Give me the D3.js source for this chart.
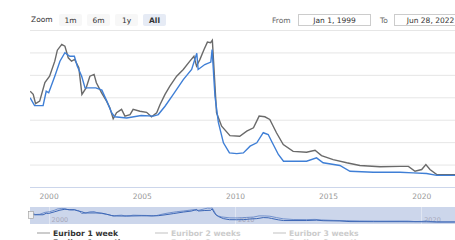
<!DOCTYPE html>
<html>
<head>
<meta charset="utf-8">
<script src="https://cdnjs.cloudflare.com/ajax/libs/d3/7.8.5/d3.min.js"></script>
<style>
  html, body { margin: 0; padding: 0; overflow: hidden; background: #fff; }
  svg { display: block; font-family: "DejaVu Sans", Verdana, sans-serif; }
</style>
</head>
<body>
<div id="chart"></div>
<script>

// Euribor 1 week (grey line)
var weekDates = ["1999-01-04", "1999-03-05", "1999-04-20", "1999-07-10", "1999-10-20", "2000-01-20",
    "2000-05-01", "2000-06-20", "2000-09-15", "2000-11-15", "2001-01-20", "2001-03-25", "2001-05-25",
    "2001-08-15", "2001-10-15", "2002-01-05", "2002-03-20", "2002-06-10", "2002-07-25", "2002-11-05",
    "2003-02-10", "2003-04-15", "2003-06-20", "2003-08-25", "2003-12-01", "2004-02-05", "2004-05-15",
    "2004-07-15", "2004-11-25", "2005-04-05", "2005-07-10", "2005-10-20", "2005-12-25", "2006-04-01",
    "2006-07-05", "2006-11-15", "2007-03-25", "2007-08-01", "2007-10-20", "2007-12-10", "2008-02-15",
    "2008-05-05", "2008-07-10", "2008-09-10", "2008-10-15", "2009-01-05", "2009-04-15", "2009-09-25",
    "2010-04-05", "2010-08-20", "2010-12-30", "2011-04-20", "2011-08-10", "2011-11-15", "2012-03-25",
    "2012-08-05", "2013-02-15", "2013-11-05", "2014-04-20", "2014-08-25", "2015-04-10", "2016-01-01",
    "2016-09-15", "2017-10-15", "2018-11-10", "2019-04-25", "2019-09-01", "2020-01-10", "2020-04-01",
    "2020-06-20", "2020-11-01", "2021-10-20", "2022-06-28"];
var weekValues = [3.27, 3.13, 2.72, 2.83, 3.66, 3.94,
    4.61, 5.10, 5.36, 5.28, 4.76, 4.61, 4.69,
    4.32, 3.13, 3.42, 3.94, 4.02, 3.65, 3.20,
    2.83, 2.53, 2.04, 2.31, 2.46, 2.16, 2.23,
    2.46, 2.38, 2.33, 2.13, 2.31, 2.68, 3.13,
    3.50, 3.94, 4.24, 4.61, 4.83, 4.39, 4.69,
    5.13, 5.46, 5.43, 5.54, 2.31, 1.71, 1.29,
    1.26, 1.49, 1.64, 2.16, 2.13, 2.01, 1.42,
    0.89, 0.59, 0.55, 0.64, 0.40, 0.22, 0.08,
    -0.04, -0.10, -0.08, -0.08, -0.30, -0.22, 0.00,
    -0.22, -0.45, -0.45, -0.42];

// Euribor 1 month (blue line)
var monthDates = ["1999-01-04", "1999-04-01", "1999-09-15", "1999-11-15", "2000-01-03", "2000-05-01",
    "2000-08-10", "2000-11-15", "2001-02-20", "2001-05-20", "2001-07-15", "2001-10-10", "2001-12-15",
    "2002-07-15", "2002-11-10", "2003-02-15", "2003-05-20", "2003-07-20", "2004-03-10", "2004-12-20",
    "2005-08-15", "2005-11-20", "2006-04-01", "2006-09-10", "2007-03-25", "2007-09-05", "2007-12-15",
    "2008-01-10", "2008-05-20", "2008-09-15", "2008-10-10", "2008-12-05", "2009-02-10", "2009-05-20",
    "2009-09-15", "2010-02-05", "2010-06-15", "2010-10-25", "2011-03-05", "2011-07-10", "2011-10-15",
    "2011-12-20", "2012-05-01", "2012-08-10", "2013-11-05", "2014-05-20", "2014-09-25", "2015-08-20",
    "2016-03-05", "2017-06-05", "2018-11-10", "2019-07-25", "2020-04-15", "2020-11-01", "2021-10-20",
    "2022-06-28"];
var monthValues = [2.98, 2.63, 2.63, 3.27, 3.20, 3.94,
    4.61, 4.99, 4.83, 4.83, 4.39, 3.94, 3.42,
    3.42, 3.32, 2.83, 2.31, 2.13, 2.08, 2.19,
    2.16, 2.23, 2.60, 3.13, 3.79, 4.24, 4.96,
    4.24, 4.46, 4.57, 5.13, 3.05, 1.88, 0.97,
    0.52, 0.49, 0.52, 0.82, 0.97, 1.42, 1.34,
    1.04, 0.45, 0.15, 0.15, 0.30, 0.08, -0.04,
    -0.30, -0.34, -0.34, -0.37, -0.40, -0.48, -0.48,
    -0.45];

var yearTicks = [2000, 2005, 2010, 2015, 2020];
var navigatorYears = [2000, 2010, 2020];
var rateTicks = [-1, 0, 1, 2, 3, 4, 5, 6];
var zoomButtons = ["1m", "6m", "1y", "All"];
var legendNames = ["Euribor 1 week", "Euribor 2 weeks", "Euribor 3 weeks",
    "Euribor 1 month", "Euribor 2 months", "Euribor 3 months"];
var legendVisible = [true, false, false, true, false, false];
var rangeFrom = "Jan 1, 1999";
var rangeTo = "Jun 28, 2022";

var parseDate = d3.timeParse("%Y-%m-%d");
var startDate = parseDate("1999-01-01");
var endDate = parseDate("2022-06-28");

var greyColor = "#6a6a6a";
var blueColor = "#3f7fd6";

function toSeries(dates, values) {
    return dates.map(function(d, i) { return {date: parseDate(d), value: values[i]}; });
}

var weekSeries = toSeries(weekDates, weekValues);
var monthSeries = toSeries(monthDates, monthValues);

var width = 480, height = 240;
var plot = {left: 30, top: 30, bottom: 187};

var svg = d3.select("#chart").append("svg")
    .attr("width", width)
    .attr("height", height);

// Scales
var x = d3.scaleTime()
    .domain([startDate, endDate])
    .range([plot.left, 467.6]);

var y = d3.scaleLinear()
    .domain([-1, 6])
    .range([plot.bottom, plot.top]);

// Range selector: zoom buttons
var selector = svg.append("g").attr("class", "selector");

selector.append("text")
    .attr("x", 31)
    .attr("y", 22)
    .style("font-size", "7.5px")
    .style("fill", "#333")
    .text("Zoom");

var buttons = selector.selectAll(".button")
    .data(zoomButtons)
    .enter().append("g")
    .attr("class", "button")
    .attr("transform", function(d, i) { return "translate(" + (59 + i * 28) + ",14)"; });

buttons.append("rect")
    .attr("width", 23)
    .attr("height", 12)
    .attr("rx", 2)
    .style("fill", function(d) { return d === "All" ? "#e6ebf5" : "#f7f7f7"; });

buttons.append("text")
    .attr("x", 11.5)
    .attr("y", 8.5)
    .style("text-anchor", "middle")
    .style("font-size", "7.5px")
    .style("font-weight", function(d) { return d === "All" ? "bold" : "normal"; })
    .style("fill", "#333")
    .text(function(d) { return d; });

// Range selector: date inputs
selector.append("text")
    .attr("x", 272)
    .attr("y", 22.5)
    .style("font-size", "7.5px")
    .style("fill", "#666")
    .text("From");

selector.append("rect")
    .attr("x", 298.5).attr("y", 14.5)
    .attr("width", 72).attr("height", 11)
    .style("fill", "#fff")
    .style("stroke", "#ccc");

selector.append("text")
    .attr("x", 334.5)
    .attr("y", 22.5)
    .style("text-anchor", "middle")
    .style("font-size", "7.5px")
    .style("fill", "#333")
    .text(rangeFrom);

selector.append("text")
    .attr("x", 380)
    .attr("y", 22.5)
    .style("font-size", "7.5px")
    .style("fill", "#666")
    .text("To");

selector.append("rect")
    .attr("x", 394.5).attr("y", 14.5)
    .attr("width", 72).attr("height", 11)
    .style("fill", "#fff")
    .style("stroke", "#ccc");

selector.append("text")
    .attr("x", 430.5)
    .attr("y", 22.5)
    .style("text-anchor", "middle")
    .style("font-size", "7.5px")
    .style("fill", "#333")
    .text(rangeTo);

// Horizontal grid
var grid = svg.append("g")
    .attr("class", "grid")
    .attr("transform", "translate(" + plot.left + ",0)")
    .call(d3.axisRight(y).tickValues(rateTicks).tickSize(width).tickFormat(""));

grid.select(".domain").remove();
grid.selectAll("line").style("stroke", "#e6e6e6");

// X axis
var xAxis = svg.append("g")
    .attr("class", "x axis")
    .attr("transform", "translate(0," + plot.bottom + ")")
    .call(d3.axisBottom(x)
        .tickValues(yearTicks.map(function(yr) { return new Date(yr, 0, 1); }))
        .tickFormat(d3.timeFormat("%Y"))
        .tickSize(0)
        .tickPadding(7));

xAxis.select(".domain")
    .attr("d", "M" + plot.left + ",0.5H" + width)
    .style("stroke", "#ccd6eb");

xAxis.selectAll("text")
    .style("font-family", "DejaVu Sans, Verdana, sans-serif")
    .style("font-size", "7.5px")
    .style("fill", "#999");

// Lines
svg.append("clipPath")
    .attr("id", "plotclip")
    .append("rect")
    .attr("x", plot.left).attr("y", 0)
    .attr("width", width).attr("height", plot.bottom);

var line = d3.line()
    .x(function(d) { return x(d.date); })
    .y(function(d) { return y(d.value); });

var lines = svg.append("g").attr("clip-path", "url(#plotclip)");

lines.append("path")
    .datum(weekSeries)
    .attr("d", line)
    .style("fill", "none")
    .style("stroke", greyColor)
    .style("stroke-width", 1.4);

lines.append("path")
    .datum(monthSeries)
    .attr("d", line)
    .style("fill", "none")
    .style("stroke", blueColor)
    .style("stroke-width", 1.4);

// Navigator
var nav = {top: 207, bottom: 224};
var yNav = d3.scaleLinear()
    .domain([d3.min(monthValues), d3.max(weekValues)])
    .range([222, 208]);

var navGroup = svg.append("g").attr("class", "navigator");

navGroup.append("rect")
    .attr("x", plot.left).attr("y", nav.top)
    .attr("width", width - plot.left).attr("height", nav.bottom - nav.top)
    .style("fill", "#ccd6eb");

navGroup.selectAll(".navgrid")
    .data(navigatorYears)
    .enter().append("line")
    .attr("class", "navgrid")
    .attr("x1", function(d) { return Math.round(x(new Date(d, 0, 1))) + 0.5; })
    .attr("x2", function(d) { return Math.round(x(new Date(d, 0, 1))) + 0.5; })
    .attr("y1", nav.top)
    .attr("y2", nav.bottom)
    .style("stroke", "#e0e6f2");

navGroup.selectAll(".navlabel")
    .data(navigatorYears)
    .enter().append("text")
    .attr("class", "navlabel")
    .attr("x", function(d) { return x(new Date(d, 0, 1)) + 3; })
    .attr("y", 222)
    .style("font-size", "6.5px")
    .style("fill", "#aab")
    .text(function(d) { return d; });

var navLine = d3.line()
    .x(function(d) { return x(d.date); })
    .y(function(d) { return yNav(d.value); });

navGroup.append("path")
    .datum(weekSeries)
    .attr("d", navLine)
    .style("fill", "none")
    .style("stroke", "#5a7fc4")
    .style("stroke-width", 0.8);

navGroup.append("path")
    .datum(monthSeries)
    .attr("d", navLine)
    .style("fill", "none")
    .style("stroke", "#3a65b5")
    .style("stroke-width", 1);

// Left handle
navGroup.append("rect")
    .attr("x", 28.5).attr("y", 211.5)
    .attr("width", 5).attr("height", 7)
    .style("fill", "#f2f2f2")
    .style("stroke", "#999")
    .style("stroke-width", 0.6);

// Legend (second row runs off the bottom edge, as in the source)
var legend = svg.selectAll(".legend")
    .data(legendNames)
    .enter().append("g")
    .attr("class", "legend")
    .attr("transform", function(d, i) {
        return "translate(" + (37 + (i % 3) * 118) + "," + (236 + Math.floor(i / 3) * 8.5) + ")";
    });

legend.append("line")
    .attr("x1", 0).attr("x2", 13)
    .attr("y1", -3).attr("y2", -3)
    .style("stroke-width", 1.2)
    .style("stroke", function(d, i) {
        if (!legendVisible[i]) { return "#ccc"; }
        return i === 0 ? "#aaa" : blueColor;
    });

legend.append("text")
    .attr("x", 16)
    .style("font-size", "7.7px")
    .style("font-weight", "bold")
    .style("fill", function(d, i) { return legendVisible[i] ? "#333" : "#ccc"; })
    .text(function(d) { return d; });

</script>
</body>
</html>
